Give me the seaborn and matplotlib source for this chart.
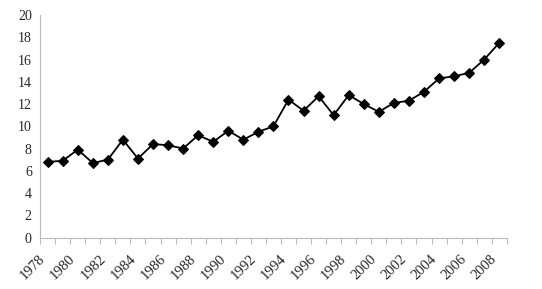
import matplotlib
matplotlib.use("Agg")
import matplotlib.pyplot as plt
import matplotlib.transforms as mtransforms
import seaborn as sns
import numpy as np

years = list(range(1978, 2009))
values = [6.8, 6.9, 7.9, 6.7, 7.0, 8.8, 7.1, 8.4, 8.3, 8.0,
          9.2, 8.6, 9.6, 8.8, 9.5, 10.0, 12.4, 11.4, 12.7, 11.0,
          12.8, 12.0, 11.3, 12.1, 12.3, 13.1, 14.3, 14.5, 14.8, 16.0, 17.5]
tick_years = list(range(1978, 2009, 2))
y_ticks = list(range(0, 21, 2))

sns.set_style("white")
plt.rcParams['font.family'] = ['Liberation Serif', 'DejaVu Serif']

fig = plt.figure(figsize=(5.42, 2.89), dpi=100)
ax = fig.add_axes([0.074, 0.178, 0.861, 0.770])

sns.lineplot(x=years, y=values, ax=ax, color="black", linewidth=1.3,
             marker="D", markersize=5.5, markeredgecolor="black",
             markerfacecolor="black")

ax.set_xlim(1977.5, 2008.5)
ax.set_ylim(0, 20)
ax.set_yticks(y_ticks)
ax.set_yticklabels([str(v) for v in y_ticks], fontsize=10)
ax.set_xticks(tick_years)
ax.set_xticklabels([str(y) for y in tick_years], rotation=45, ha="right",
                   rotation_mode="anchor", fontsize=10.5)
ax.set_xticks(np.arange(1977.5, 2009, 1.0), minor=True)
ax.tick_params(axis="x", which="major", length=0, pad=9)
ax.tick_params(axis="x", which="minor", length=4, color="#bbbbbb", width=0.8,
               bottom=True)
ax.tick_params(axis="y", length=0, pad=6)

for s in ["top", "right"]:
    ax.spines[s].set_visible(False)
for s in ["left", "bottom"]:
    ax.spines[s].set_color("#bbbbbb")
    ax.spines[s].set_linewidth(0.8)

ax.set_xlabel("")
ax.set_ylabel("")

fig.canvas.draw()
offset = mtransforms.ScaledTranslation(-9 / 100, -2 / 100, fig.dpi_scale_trans)
for tick in ax.xaxis.get_major_ticks():
    tick.label1.set_transform(tick.label1.get_transform() + offset)

fig.savefig("out.png", dpi=100)
